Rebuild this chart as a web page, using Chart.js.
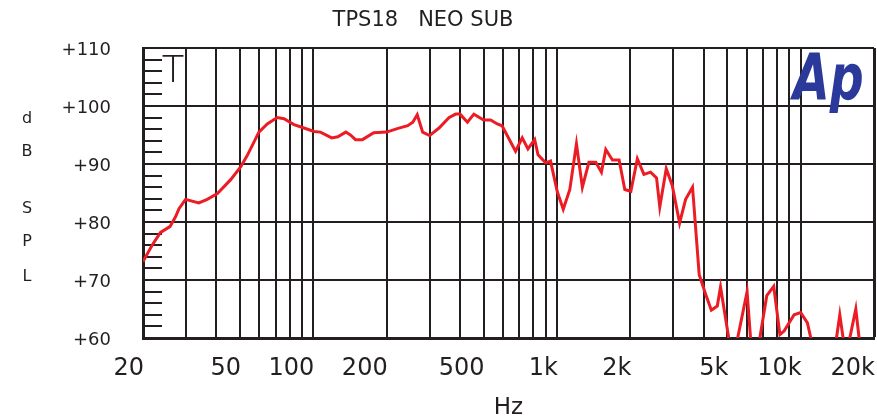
<!DOCTYPE html>
<html>
<head>
<meta charset="utf-8">
<title>TPS18 NEO SUB</title>
<script src="https://cdn.jsdelivr.net/npm/chart.js@4/dist/chart.umd.min.js"></script>
<style>
  html, body { margin: 0; padding: 0; background: #fff; }
  #wrap { width: 877px; height: 416px; }
</style>
</head>
<body>
<div id="wrap"><canvas id="spl" width="877" height="416"></canvas></div>
<script>
const TITLE = "TPS18   NEO SUB";
const INK = "#231f20";

// frequency response (Hz / dB SPL)
const freqs = [
    20, 21.8, 23.6, 25.8, 27.2, 28.1, 29.9, 33.9, 36.7, 40.4,
    45.8, 50.3, 53.6, 59.8, 64.7, 71.1, 75.8, 83.3, 91.6, 100.6,
    107, 119, 126, 136, 142, 149, 159, 177, 200, 221,
    244, 256, 267, 281, 300, 328, 360, 384, 400, 429,
    456, 500, 534, 569, 595, 676, 720, 760, 810, 836,
    898, 941, 1003, 1061, 1129, 1202, 1271, 1352, 1443, 1522,
    1586, 1689, 1799, 1898, 2010, 2137, 2274, 2422, 2562, 2642,
    2808, 2972, 3186, 3372, 3600, 3834, 4078, 4300, 4548, 4690,
    5068, 5300, 5514, 6028, 6228, 6500, 6800, 7260, 7754, 8220,
    8551, 9400, 10000, 10660, 11008, 12500, 14030, 14476, 14934, 15400,
    15910, 16840, 17370, 20000
];
const spl = [
    73.2, 76.0, 78.2, 79.2, 80.9, 82.3, 83.9, 83.3, 83.9, 84.9,
    87.3, 89.5, 91.5, 95.5, 96.9, 98.0, 97.8, 96.8, 96.2, 95.6,
    95.5, 94.5, 94.7, 95.5, 95.0, 94.2, 94.2, 95.4, 95.5, 96.1,
    96.6, 97.2, 98.5, 95.5, 94.9, 96.2, 98.0, 98.6, 98.6, 97.2,
    98.6, 97.6, 97.6, 96.9, 96.6, 92.2, 94.5, 92.6, 94.2, 91.6,
    90.2, 90.5, 85.2, 82.2, 85.6, 93.5, 86.0, 90.3, 90.3, 88.6,
    92.5, 90.7, 90.7, 85.6, 85.3, 90.9, 88.2, 88.6, 87.6, 82.6,
    89.2, 86.3, 79.8, 83.9, 86.0, 70.9, 67.5, 64.8, 65.5, 68.8,
    60.0, 56.0, 60.0, 68.0, 60.0, 56.0, 60.0, 67.3, 68.9, 60.6,
    61.2, 64.0, 64.4, 62.6, 60.0, 55.0, 60.0, 64.0, 60.0, 57.0,
    60.0, 65.0, 60.0, 55.0
];

// axis labels
const labelFreqs = [20, 50, 100, 200, 500, 1000, 2000, 5000, 10000, 20000];
const labelTexts = ["20", "50", "100", "200", "500", "1k", "2k", "5k", "10k", "20k"];
const yMin = 60;
const yMax = 110;

// vertical grid: every 1..9 step of each decade between 20 Hz and 20 kHz
const gridFreqs = [];
for (let d = 10; d <= 10000; d *= 10) {
    for (let m = 1; m <= 9; m++) {
        const f = m * d;
        if (f >= 20 && f <= 20000) gridFreqs.push(f);
    }
}

/**
 * ======================
 * EXTRA TEXT (title, dB SPL, marker, logo)
 * ======================
 */
const overlay = {
    id: "overlay",
    afterDraw(chart) {
        const ctx = chart.ctx;
        ctx.save();
        ctx.fillStyle = INK;
        ctx.textAlign = "center";
        ctx.textBaseline = "middle";

        ctx.font = '21px "DejaVu Sans"';
        ctx.fillText(TITLE, 423, 21);

        ctx.font = '16px "DejaVu Sans"';
        [["d", 119], ["B", 152], ["S", 209], ["P", 242], ["L", 277]]
            .forEach(([c, y]) => ctx.fillText(c, 27, y));

        ctx.textAlign = "left";
        ctx.textBaseline = "alphabetic";
        ctx.font = '300 38px Lato';
        ctx.fillText("T", 162, 82);

        ctx.fillStyle = "#2b3a9a";
        ctx.font = 'italic bold 64px "DejaVu Sans"';
        ctx.translate(793, 100);
        ctx.scale(0.74, 1);
        ctx.fillText("Ap", 0, 0);
        ctx.restore();
    }
};

new Chart(document.getElementById("spl"), {
    type: "line",
    data: {
        datasets: [{
            data: freqs.map((f, i) => ({ x: f, y: spl[i] })),
            borderColor: "#ec1c24",
            borderWidth: 3,
            pointRadius: 0,
            tension: 0,
            fill: false
        }]
    },
    options: {
        responsive: false,
        animation: false,
        devicePixelRatio: 1,
        layout: { padding: { top: 48, right: 3, left: 0, bottom: 0 } },
        plugins: {
            legend: { display: false },
            tooltip: { enabled: false }
        },
        scales: {
            x: {
                type: "logarithmic",
                min: 20,
                max: 20000,
                afterBuildTicks: (scale) => {
                    scale.ticks = gridFreqs.map(v => ({ value: v }));
                },
                afterFit: (scale) => {
                    scale.height = 78;
                    scale.paddingLeft = 0;
                    scale.paddingRight = 0;
                },
                ticks: {
                    autoSkip: false,
                    maxRotation: 0,
                    minRotation: 0,
                    align: "end",
                    labelOffset: 1,
                    padding: 16,
                    color: INK,
                    font: { family: "DejaVu Sans", size: 24 },
                    callback: (value) => {
                        const i = labelFreqs.indexOf(value);
                        return i >= 0 ? labelTexts[i] : "";
                    }
                },
                grid: {
                    color: INK,
                    lineWidth: (c) => (c.tick && c.tick.value === 20000 ? 3 : 2),
                    drawTicks: false
                },
                border: { display: true, color: INK, width: 3 },
                title: {
                    display: true,
                    text: "Hz",
                    color: INK,
                    font: { family: "DejaVu Sans", size: 23, lineHeight: 0.7 },
                    padding: { top: 0, bottom: 0 }
                }
            },
            y: {
                min: yMin,
                max: yMax,
                afterFit: (scale) => {
                    scale.width = 143;
                    scale.paddingTop = 0;
                    scale.paddingBottom = 0;
                },
                ticks: {
                    stepSize: 2,
                    autoSkip: false,
                    padding: 51,
                    labelOffset: 2,
                    color: INK,
                    font: { family: "DejaVu Sans", size: 18 },
                    callback: (v) => (v % 10 === 0 ? "+" + v : "")
                },
                grid: {
                    color: (c) => (c.tick && c.tick.value % 10 === 0 ? INK : "rgba(0,0,0,0)"),
                    lineWidth: 2,
                    drawTicks: true,
                    tickLength: -19,
                    tickWidth: 2,
                    tickColor: (c) => (c.tick && c.tick.value % 10 === 0 ? "rgba(0,0,0,0)" : INK)
                },
                border: { display: true, color: INK, width: 3 }
            }
        }
    },
    plugins: [overlay]
});
</script>
</body>
</html>
